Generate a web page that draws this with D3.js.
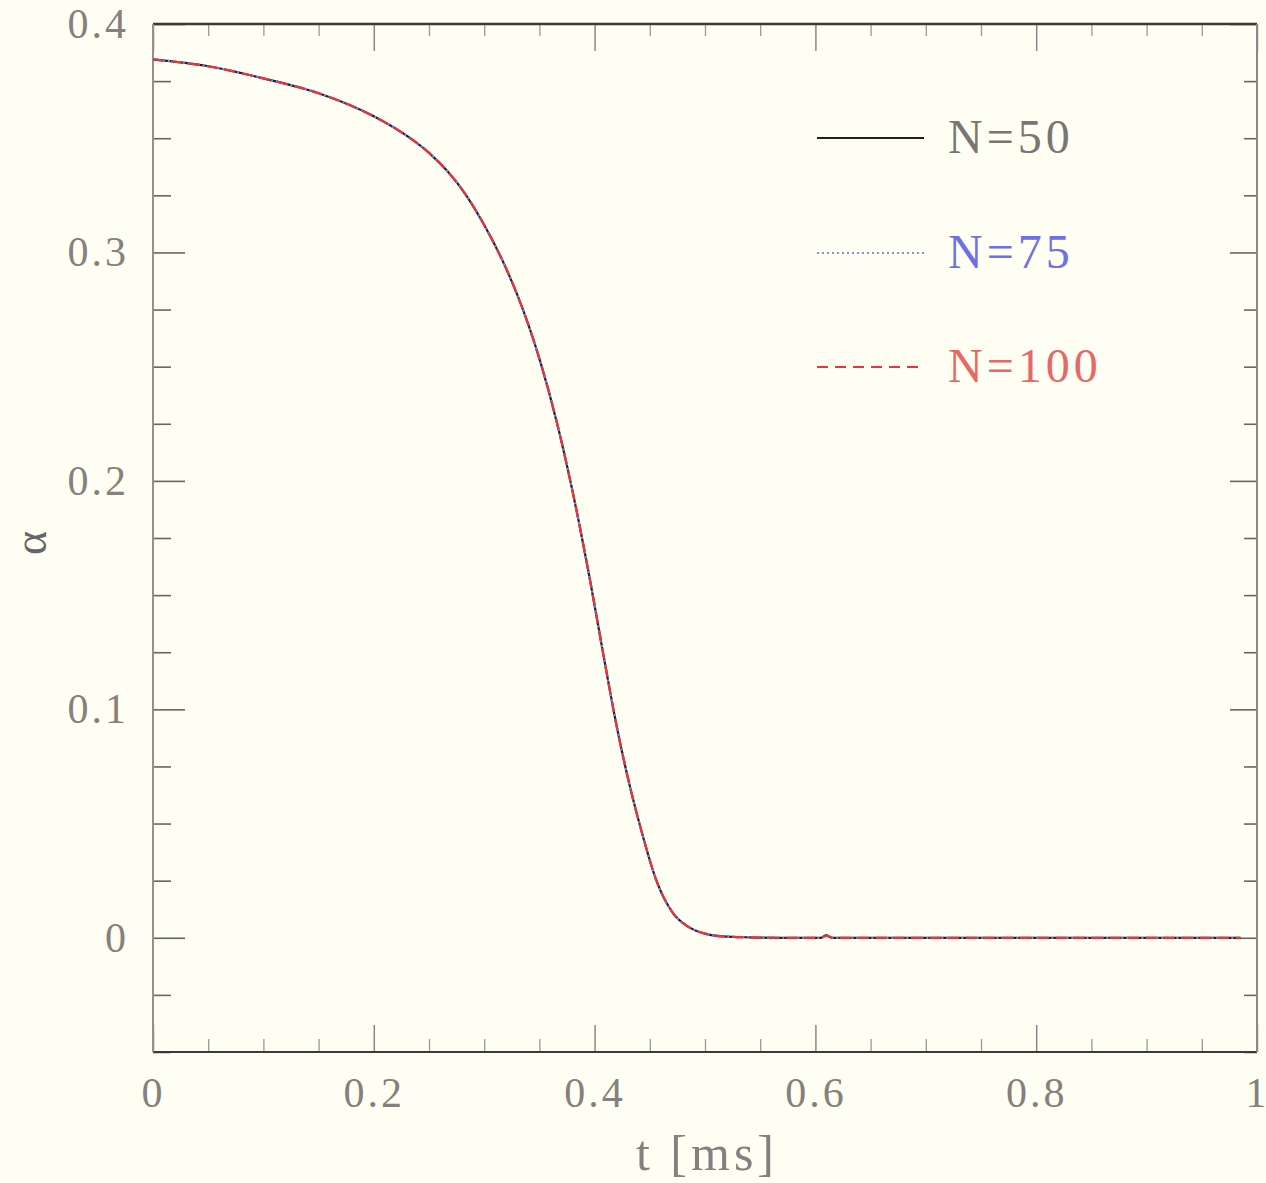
<!DOCTYPE html>
<html>
<head>
<meta charset="utf-8">
<script src="https://cdn.jsdelivr.net/npm/d3@7"></script>
<style>
  html, body { margin: 0; padding: 0; background: #fefef2; }
  svg { display: block; }
  text { font-family: "Liberation Serif", "DejaVu Serif", serif; }
</style>
</head>
<body>
<script>
// ---- data ----
const tValues = [0, 0.05, 0.1, 0.15, 0.2, 0.233, 0.25, 0.267, 0.284, 0.3, 0.317, 0.33, 0.34, 0.351, 0.366, 0.38, 0.39, 0.396, 0.408, 0.42, 0.432, 0.444, 0.456, 0.471, 0.485, 0.5, 0.516, 0.54, 0.577, 0.6, 0.605, 0.61, 0.615, 0.62, 0.7, 0.8, 0.9, 0.985];
const alphaN50  = [0.3845, 0.3815, 0.3762, 0.3697, 0.3596, 0.3500, 0.3436, 0.3354, 0.3248, 0.3120, 0.2960, 0.2814, 0.2684, 0.2519, 0.2252, 0.1955, 0.1715, 0.1562, 0.1238, 0.0926, 0.0662, 0.0440, 0.0250, 0.0108, 0.0048, 0.0018, 0.0006, 0.0002, 0.0000, 0.0000, 0.0000, 0.0012, 0.0000, 0.0000, 0.0000, 0.0000, 0.0000, 0.0000];
const alphaN75  = [0.3845, 0.3815, 0.3762, 0.3697, 0.3596, 0.3500, 0.3436, 0.3354, 0.3248, 0.3120, 0.2960, 0.2814, 0.2684, 0.2519, 0.2252, 0.1955, 0.1715, 0.1562, 0.1238, 0.0926, 0.0662, 0.0440, 0.0250, 0.0108, 0.0048, 0.0018, 0.0006, 0.0002, 0.0000, 0.0000, 0.0000, 0.0010, 0.0000, 0.0000, 0.0000, 0.0000, 0.0000, 0.0000];
const alphaN100 = [0.3845, 0.3815, 0.3762, 0.3697, 0.3596, 0.3500, 0.3436, 0.3354, 0.3248, 0.3120, 0.2960, 0.2814, 0.2684, 0.2519, 0.2252, 0.1955, 0.1715, 0.1562, 0.1238, 0.0926, 0.0662, 0.0440, 0.0250, 0.0108, 0.0048, 0.0018, 0.0006, 0.0002, 0.0000, 0.0000, 0.0000, 0.0008, 0.0000, 0.0000, 0.0000, 0.0000, 0.0000, 0.0000];
const seriesNames = ["N=50", "N=75", "N=100"];
const xTickValues = [0, 0.2, 0.4, 0.6, 0.8, 1];
const xTickLabels = ["0", "0.2", "0.4", "0.6", "0.8", "1"];
const yTickValues = [0, 0.1, 0.2, 0.3, 0.4];
const yTickLabels = ["0", "0.1", "0.2", "0.3", "0.4"];
const xLabel = "t [ms]";
const yLabel = "α";

// ---- layout ----
const W = 1266, H = 1183;
const L = 153, R = 1257, T = 24, B = 1052;
const svg = d3.select("body").append("svg").attr("width", W).attr("height", H);
svg.append("rect").attr("width", W).attr("height", H).attr("fill", "#fefef2");

const x = d3.scaleLinear().domain([0, 1]).range([L, R]);
const y = d3.scaleLinear().domain([-0.05, 0.4]).range([B, T]);

const xMinor = d3.range(0, 1.0001, 0.05).filter(v => Math.abs(v / 0.2 - Math.round(v / 0.2)) > 1e-6);
const yMinor = d3.range(-0.05, 0.4001, 0.025).filter(v => Math.abs(v / 0.1 - Math.round(v / 0.1)) > 1e-6);

const labelColor = "#858080";
const fmtX = d => xTickLabels[xTickValues.indexOf(d)];
const fmtY = d => yTickLabels[yTickValues.indexOf(d)];

function styleAxis(g, color, width) {
  g.select(".domain").remove();
  g.selectAll(".tick line").attr("stroke", color).attr("stroke-width", width);
  g.selectAll(".tick text").attr("fill", labelColor).attr("font-size", 42).attr("letter-spacing", 3);
}

// bottom
svg.append("g").attr("transform", `translate(0,${B})`)
  .call(d3.axisBottom(x).tickValues(xTickValues).tickSize(-27).tickPadding(25).tickFormat(fmtX))
  .call(g => styleAxis(g, "#888", 1.5))
  .call(g => g.selectAll(".tick text").filter(d => d === 1).attr("text-anchor", "end").attr("letter-spacing", 0).attr("x", 9));
svg.append("g").attr("transform", `translate(0,${B})`)
  .call(d3.axisBottom(x).tickValues(xMinor).tickSize(-13).tickFormat(""))
  .call(g => styleAxis(g, "#999", 1.3));
// top
svg.append("g").attr("transform", `translate(0,${T})`)
  .call(d3.axisTop(x).tickValues(xTickValues).tickSize(-27).tickFormat(""))
  .call(g => styleAxis(g, "#888", 1.5));
svg.append("g").attr("transform", `translate(0,${T})`)
  .call(d3.axisTop(x).tickValues(xMinor).tickSize(-12).tickFormat(""))
  .call(g => styleAxis(g, "#999", 1.3));
// left
svg.append("g").attr("transform", `translate(${L},0)`)
  .call(d3.axisLeft(y).tickValues(yTickValues).tickSize(-32).tickPadding(24).tickFormat(fmtY))
  .call(g => styleAxis(g, "#666", 1.6));
svg.append("g").attr("transform", `translate(${L},0)`)
  .call(d3.axisLeft(y).tickValues(yMinor).tickSize(-18).tickFormat(""))
  .call(g => styleAxis(g, "#666", 1.6));
// right
svg.append("g").attr("transform", `translate(${R},0)`)
  .call(d3.axisRight(y).tickValues(yTickValues).tickSize(-27).tickFormat(""))
  .call(g => styleAxis(g, "#666", 1.6));
svg.append("g").attr("transform", `translate(${R},0)`)
  .call(d3.axisRight(y).tickValues(yMinor).tickSize(-13).tickFormat(""))
  .call(g => styleAxis(g, "#666", 1.6));

// frame
svg.append("line").attr("x1", L).attr("x2", R).attr("y1", T).attr("y2", T).attr("stroke", "#3a3a3a").attr("stroke-width", 2.5);
svg.append("line").attr("x1", L).attr("x2", R).attr("y1", B).attr("y2", B).attr("stroke", "#3a3a3a").attr("stroke-width", 2);
svg.append("line").attr("x1", L).attr("x2", L).attr("y1", T).attr("y2", B).attr("stroke", "#9a8c8c").attr("stroke-width", 2);
svg.append("line").attr("x1", R).attr("x2", R).attr("y1", T).attr("y2", B).attr("stroke", "#8a8a8a").attr("stroke-width", 2);

// axis labels
svg.append("text").attr("x", 707).attr("y", 1170).attr("text-anchor", "middle")
  .attr("font-size", 50).attr("fill", labelColor).attr("letter-spacing", 4).attr("xml:space", "preserve").text(xLabel);
svg.append("text").attr("transform", "translate(46,543) rotate(-90)").attr("text-anchor", "middle")
  .attr("font-size", 46).attr("fill", "#666").text(yLabel);

// ---- series ----
const series = [
  { name: seriesNames[0], values: alphaN50,  stroke: "#202020", dash: null,   width: 2.2, text: "#7a7575", ly: 138 },
  { name: seriesNames[1], values: alphaN75,  stroke: "#8a8ae6", dash: "2,3",  width: 2.2, text: "#6f6fe8", ly: 253 },
  { name: seriesNames[2], values: alphaN100, stroke: "#ee3040", dash: "11,7", width: 2.2, text: "#e86868", ly: 367 }
];

const line = d3.line().x(d => x(d[0])).y(d => y(d[1])).curve(d3.curveMonotoneX);
series.forEach(s => {
  const pts = tValues.map((t, i) => [t, s.values[i]]);
  svg.append("path").attr("d", line(pts)).attr("fill", "none")
    .attr("stroke", s.stroke).attr("stroke-width", s.width)
    .attr("stroke-dasharray", s.dash).attr("stroke-linejoin", "round");
});

// legend
series.forEach(s => {
  svg.append("line").attr("x1", 817).attr("x2", 924).attr("y1", s.ly).attr("y2", s.ly)
    .attr("stroke", s.stroke).attr("stroke-width", 2)
    .attr("stroke-dasharray", s.dash);
  svg.append("text").attr("x", 948).attr("y", s.ly + 15).attr("font-size", 48)
    .attr("letter-spacing", 4).attr("fill", s.text).text(s.name);
});
</script>
</body>
</html>
